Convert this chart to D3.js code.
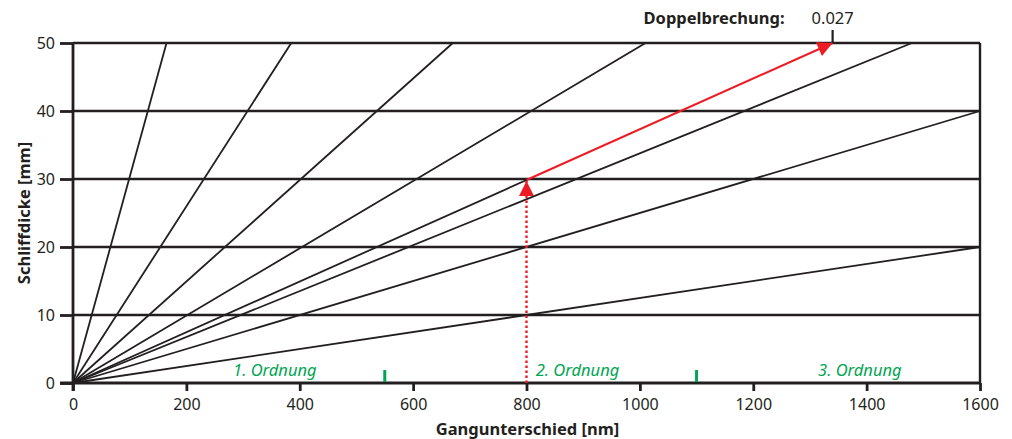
<!DOCTYPE html>
<html>
<head>
<meta charset="utf-8">
<script src="https://cdn.jsdelivr.net/npm/d3@7"></script>
<style>
  body { margin: 0; background: #fff; }
  text { font-family: "Noto Sans", "Open Sans", sans-serif; fill: #231f20; }
</style>
</head>
<body>
<div id="chart"></div>
<script>
var width = 1012
var height = 439
var margin = {top: 43, right: 32, bottom: 56, left: 73}

// Doppelbrechung of each line through the origin
var lineDn = [0.0033, 0.0077, 0.0134, 0.0202, 0.0268, 0.0296, 0.04, 0.08]
var xTicks = [0, 200, 400, 600, 800, 1000, 1200, 1400, 1600]
var yTicks = [0, 10, 20, 30, 40, 50]
var gridY = [10, 20, 30, 40, 50]
var orderBounds = [550, 1100]
var orderLabels = ["1. Ordnung", "2. Ordnung", "3. Ordnung"]
var orderLabelX = [356, 890, 1388]
var markedDn = 0.0268
var markedGang = 800

var svg = d3.select("#chart").append("svg")
    .attr("width", width)
    .attr("height", height)

var x = d3.scaleLinear().domain([0, 1600]).range([margin.left, width - margin.right])
var y = d3.scaleLinear().domain([0, 50]).range([height - margin.bottom, margin.top])

var ink = "#231f20"
var red = "#ed1c24"
var green = "#00a651"

// grid lines
svg.append("g").selectAll("line")
  .data(gridY)
  .enter().append("line")
  .attr("x1", x(0)).attr("x2", x(1600))
  .attr("y1", function(d) { return y(d) }).attr("y2", function(d) { return y(d) })
  .attr("stroke", ink).attr("stroke-width", 2.4)

// right border
svg.append("line")
  .attr("x1", x(1600)).attr("x2", x(1600))
  .attr("y1", y(0)).attr("y2", y(50))
  .attr("stroke", ink).attr("stroke-width", 2.4)

// lines from origin, clipped to the frame
function lineEnd(dn) {
  if (dn === markedDn) return [markedDn * 30 * 1000, 30]
  var gTop = dn * 50 * 1000
  if (gTop <= 1600) return [gTop, 50]
  return [1600, 1600 / (dn * 1000)]
}

svg.append("g").selectAll("line")
  .data(lineDn)
  .enter().append("line")
  .attr("x1", x(0)).attr("y1", y(0))
  .attr("x2", function(d) { return x(lineEnd(d)[0]) })
  .attr("y2", function(d) { return y(lineEnd(d)[1]) })
  .attr("stroke", ink).attr("stroke-width", 1.8)

// axes
var xAxis = d3.axisBottom(x).tickValues(xTicks).tickSize(8).tickPadding(8).tickFormat(d3.format("d"))
var yAxis = d3.axisLeft(y).tickValues(yTicks).tickSize(13).tickPadding(5).tickFormat(d3.format("d"))

var gx = svg.append("g").attr("transform", "translate(0," + y(0) + ")").call(xAxis)
var gy = svg.append("g").attr("transform", "translate(" + x(0) + ",0)").call(yAxis)

;[gx, gy].forEach(function(g) {
  g.select(".domain").remove()
  g.selectAll(".tick line").attr("stroke", ink).attr("stroke-width", 2.8)
  g.selectAll(".tick text").attr("fill", ink).style("font-size", "16px")
})
gy.selectAll(".tick text").attr("dy", "0.34em")

svg.append("line")
  .attr("x1", x(0) - 13).attr("x2", x(1600))
  .attr("y1", y(0)).attr("y2", y(0))
  .attr("stroke", ink).attr("stroke-width", 2.8)
svg.append("line")
  .attr("x1", x(0)).attr("x2", x(0))
  .attr("y1", y(0) + 8).attr("y2", y(50))
  .attr("stroke", ink).attr("stroke-width", 2.8)

// axis titles
svg.append("text")
  .attr("x", (x(0) + x(1600)) / 2 + 1)
  .attr("y", height - 4)
  .attr("text-anchor", "middle")
  .style("font-size", "16.5px").style("font-weight", "bold")
  .text("Gangunterschied [nm]")

svg.append("text")
  .attr("transform", "translate(30," + y(25) + ") rotate(-90)")
  .attr("text-anchor", "middle")
  .style("font-size", "16.5px").style("font-weight", "bold")
  .text("Schliffdicke [mm]")

// order boundaries and labels
svg.append("g").selectAll("line")
  .data(orderBounds)
  .enter().append("line")
  .attr("x1", function(d) { return x(d) }).attr("x2", function(d) { return x(d) })
  .attr("y1", y(0) - 1).attr("y2", y(0) - 13)
  .attr("stroke", green).attr("stroke-width", 3)

svg.append("g").selectAll("text")
  .data(orderLabels)
  .enter().append("text")
  .attr("x", function(d, i) { return x(orderLabelX[i]) })
  .attr("y", y(0) - 7)
  .attr("text-anchor", "middle")
  .style("font-size", "16.5px").style("font-style", "italic")
  .style("fill", green)
  .text(function(d) { return d })

// red markers
var defs = svg.append("defs")
defs.append("marker")
  .attr("id", "head")
  .attr("viewBox", "0 0 10 10")
  .attr("refX", 10).attr("refY", 5)
  .attr("markerWidth", 20).attr("markerHeight", 15)
  .attr("markerUnits", "userSpaceOnUse")
  .attr("orient", "auto")
  .append("path")
  .attr("d", "M0,0 L10,5 L0,10 Z")
  .attr("fill", red)

var crossY = markedGang / (markedDn * 1000)

svg.append("line")
  .attr("x1", x(markedGang)).attr("x2", x(markedGang))
  .attr("y1", y(0)).attr("y2", y(crossY) + 1)
  .attr("stroke", red).attr("stroke-width", 2.4)
  .attr("stroke-dasharray", "2.5,2.5")
  .attr("marker-end", "url(#head)")

var topGang = markedDn * 50 * 1000
svg.append("line")
  .attr("x1", x(markedGang)).attr("y1", y(crossY))
  .attr("x2", x(topGang)).attr("y2", y(50))
  .attr("stroke", red).attr("stroke-width", 2)
  .attr("marker-end", "url(#head)")

// Doppelbrechung label
svg.append("line")
  .attr("x1", x(topGang)).attr("x2", x(topGang))
  .attr("y1", y(50)).attr("y2", y(50) - 13)
  .attr("stroke", ink).attr("stroke-width", 2.2)

svg.append("text")
  .attr("x", x(topGang) - 48)
  .attr("y", 24)
  .attr("text-anchor", "end")
  .style("font-size", "16.5px").style("font-weight", "bold")
  .text("Doppelbrechung:")

svg.append("text")
  .attr("x", x(topGang))
  .attr("y", 24)
  .attr("text-anchor", "middle")
  .style("font-size", "16.5px")
  .text(d3.format(".3f")(markedDn))
</script>
</body>
</html>
